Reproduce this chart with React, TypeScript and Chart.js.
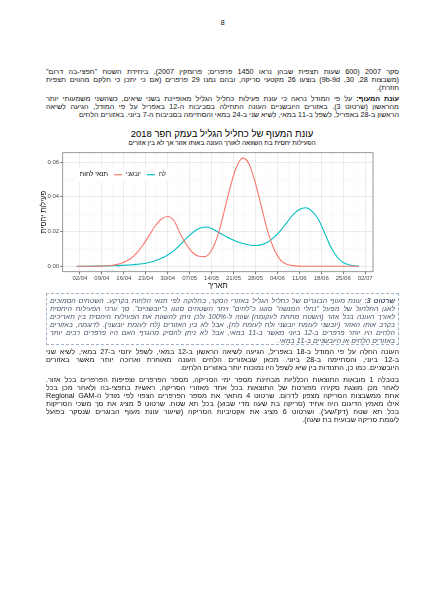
import React, { useEffect, useRef } from 'react';
import Chart from 'chart.js/auto';

// days counted from 02/04/2018 (day 0)
const days = [-1, 0, 2, 4, 6, 8, 10, 12, 14, 16, 18, 20, 22, 24, 26, 28, 30, 32, 34, 36, 38, 40, 42, 44, 46, 48, 50, 52, 54, 56, 58, 60, 62, 64, 66, 68, 70, 72, 74, 76, 78, 80, 82, 84, 86, 88, 89];

// relative activity, dry areas (יובשני)
const dryActivity = [0, 0, 0, 0, 0.0001, 0.0002, 0.0005, 0.0011, 0.0023, 0.0042, 0.0075, 0.012, 0.0175, 0.0232, 0.0272, 0.0287, 0.0262, 0.0188, 0.0124, 0.0078, 0.0058, 0.0056, 0.0092, 0.018, 0.0315, 0.046, 0.0575, 0.0623, 0.0588, 0.0478, 0.0335, 0.0195, 0.0095, 0.0035, 0.0012, 0.0004, 0.0001, 0, 0, 0, 0, 0, 0, 0, 0, 0, 0];

// relative activity, wet areas (לח)
const wetActivity = [0, 0, 0, 0.0001, 0.0001, 0.0002, 0.0003, 0.0004, 0.0006, 0.0008, 0.0011, 0.0015, 0.0022, 0.0032, 0.0046, 0.0065, 0.009, 0.0124, 0.0162, 0.0195, 0.0217, 0.0226, 0.0218, 0.0198, 0.0178, 0.0158, 0.0143, 0.0131, 0.0123, 0.012, 0.0125, 0.014, 0.0168, 0.0205, 0.0252, 0.0297, 0.0327, 0.0337, 0.0318, 0.0272, 0.0195, 0.0112, 0.0055, 0.0022, 0.0008, 0.0002, 0.0001];

const tickDays = [0, 7, 14, 21, 28, 35, 42, 49, 56, 63, 70, 77, 84, 91];
const tickLabels = ['02/04', '09/04', '16/04', '23/04', '30/04', '07/05', '14/05', '21/05', '28/05', '04/06', '11/06', '18/06', '25/06', '02/07'];
const yTicks = [0, 0.01, 0.02, 0.03, 0.04, 0.05, 0.06];
const yLabelTicks = [0, 0.02, 0.04, 0.06];

const seriesLabels = ['יובשני', 'לח'];
const legendTitle = 'תנאי לחות';
const dryColor = '#F8766D';
const wetColor = '#00BFC4';

type Line = { bold?: string; text: string };

const para1: Line[] = [
  { text: 'סקר 2007 (600 שעות תצפית שבהן נראו 1450 פרפרים; פרומקין 2007). ביחידת השטח "חפצי-בה דרום"' },
  { text: '(משבצות 28, 30, 9b-9d) בוצעו 26 מקטעי סריקה, ובהם נמנו 29 פרפרים (אם כי יתכן כי חלקם מהווים תצפית' },
  { text: 'חוזרת).' },
];

const para2: Line[] = [
  { bold: 'עונת המעוף:', text: 'על פי המודל נראה כי עונת פעילות כחליל הגליל מאופיינת בשני שיאים, כשהשני משמעותי יותר' },
  { text: 'מהראשון (שרטוט 3). באזורים היובשניים העונה התחילה בסביבות ה-12 באפריל על פי המודל, הגיעה לשיאה' },
  { text: 'הראשון ב-28 באפריל, לשפל ב-11 במאי, לשיא שני ב-24 במאי והסתיימה בסביבות ה-7 ביוני. באזורים הלחים' },
];

const caption: Line[] = [
  { bold: 'שרטוט 3:', text: 'עונת מעוף הבוגרים של כחליל הגליל באזורי הסקר, בחלוקה לפי תנאי הלחות בקרקע. השטחים הסמוכים' },
  { text: 'לאגן החלחול של מפעל "נחלי המנשה" סווגו כ"לחים" ויתר השטחים סווגו כ"יובשניים". סך ערכי הפעילות היחסית' },
  { text: 'לאורך העונה בכל אזור (השטח מתחת לעקומה) שווה ל-100% ולכן ניתן להשוות את הפעילות היחסית בין תאריכים' },
  { text: 'בקרב אותו האזור (יובשני לעומת יובשני ולח לעומת לח), אבל לא בין האזורים (לח לעומת יובשני). לדוגמה, באזורים' },
  { text: 'הלחים היו יותר פרפרים ב-12 ביוני מאשר ב-11 במאי, אבל לא ניתן להסיק מהגרף האם היו פרפרים רבים יותר' },
  { text: 'באזורים הלחים או היובשניים ב-11 במאי.' },
];

const para3: Line[] = [
  { text: 'העונה החלה על פי המודל ב-18 באפריל, הגיעה לשיאה הראשון ב-12 במאי, לשפל יחסי ב-27 במאי, לשיא שני' },
  { text: 'ב-12 ביוני, והסתיימה ב-28 ביוני. מכאן שבאזורים הלחים העונה מאוחרת וארוכה יותר מאשר באזורים' },
  { text: 'היובשניים. כמו כן, התנודות בין שיא לשפל היו נמוכות יותר באזורים הלחים.' },
];

const para4: Line[] = [
  { text: 'בטבלה 1 מובאות התוצאות הכלליות מבחינת מספר ימי הסריקה, מספר הפרפרים וצפיפות הפרפרים בכל אזור.' },
  { text: 'לאחר מכן מוצגת סקירה מפורטת של התוצאות בכל אחד מאזורי הסריקה, ראשית בחפצי-בה ולאחר מכן בכל' },
  { text: 'אחת ממשבצות הסריקה מצפון לדרום. שרטוט 4 מתאר את מספר הפרפרים הצפוי לפי מודל ה-Regional GAM' },
  { text: 'אילו מאמץ הדיגום היה אחיד (סריקה בת שעה מדי שבוע) בכל תא שטח. שרטוט 5 מציג את סך משכי הסריקות' },
  { text: "בכל תא שטח (דק'/שע'). ושרטוט 6 מציג את אקטיביות הסריקה (שיעור עונת מעוף הבוגרים שנסקר בפועל" },
  { text: 'לעומת סריקה שבועית בת שעה).' },
];

const FONT = '"Liberation Sans", Arial, sans-serif';
const LINE = 8;

function TextLines({ lines, top }: { lines: Line[]; top: number }) {
  return (
    <>
      {lines.map((l, i) => (
        <div
          key={i}
          style={{
            position: 'absolute',
            left: 0,
            right: 0,
            top: top + i * LINE,
            height: LINE,
            lineHeight: LINE + 'px',
            textAlign: 'justify',
            textAlignLast: i === lines.length - 1 ? 'start' : 'justify',
            whiteSpace: 'nowrap',
          }}
        >
          {l.bold && <b>{l.bold} </b>}
          {l.text}
        </div>
      ))}
    </>
  );
}

const isMajorX = (v?: number) => v !== undefined && tickDays.includes(v);
const isMajorY = (v?: number) => v !== undefined && yLabelTicks.some((t) => Math.abs(t - v) < 1e-9);

const panelBorder = {
  id: 'panelBorder',
  afterDatasetsDraw(chart: Chart) {
    const { ctx, chartArea } = chart;
    ctx.save();
    ctx.strokeStyle = '#808080';
    ctx.lineWidth = 0.8;
    ctx.strokeRect(chartArea.left, chartArea.top, chartArea.right - chartArea.left, chartArea.bottom - chartArea.top);
    ctx.restore();
  },
};

const insideLegend = {
  id: 'insideLegend',
  beforeDatasetsDraw(chart: Chart) {
    const { ctx, chartArea } = chart;
    const y = chartArea.top + 22;
    let x = chartArea.left + 17;
    ctx.save();
    ctx.font = '6.5px ' + FONT;
    ctx.textBaseline = 'middle';
    ctx.textAlign = 'left';
    const titleW = ctx.measureText(legendTitle).width;
    ctx.font = '6px ' + FONT;
    const w0 = ctx.measureText(seriesLabels[0]).width;
    const w1 = ctx.measureText(seriesLabels[1]).width;
    const total = titleW + 6 + 8 + 4 + w0 + 6 + 8 + 4 + w1;
    ctx.fillStyle = '#fff';
    ctx.fillRect(x - 3, y - 7, total + 6, 14);

    ctx.fillStyle = '#000';
    ctx.font = '6.5px ' + FONT;
    ctx.fillText(legendTitle, x, y);
    x += titleW + 6;
    const colors = [dryColor, wetColor];
    const widths = [w0, w1];
    ctx.font = '6px ' + FONT;
    for (let i = 0; i < 2; i++) {
      ctx.strokeStyle = colors[i];
      ctx.lineWidth = 1.2;
      ctx.beginPath();
      ctx.moveTo(x, y);
      ctx.lineTo(x + 8, y);
      ctx.stroke();
      x += 12;
      ctx.fillStyle = '#222';
      ctx.fillText(seriesLabels[i], x, y);
      x += widths[i] + 6;
    }
    ctx.restore();
  },
};

function ActivityChart() {
  const canvasRef = useRef<HTMLCanvasElement>(null);
  const chartRef = useRef<Chart | null>(null);

  useEffect(() => {
    if (!canvasRef.current) return;
    if (chartRef.current) chartRef.current.destroy();

    Chart.defaults.font.family = FONT;

    chartRef.current = new Chart(canvasRef.current, {
      type: 'line',
      data: {
        datasets: [
          {
            label: seriesLabels[0],
            data: days.map((d, i) => ({ x: d, y: dryActivity[i] })),
            borderColor: dryColor,
            borderWidth: 1.1,
            pointRadius: 0,
            cubicInterpolationMode: 'monotone',
            fill: false,
          },
          {
            label: seriesLabels[1],
            data: days.map((d, i) => ({ x: d, y: wetActivity[i] })),
            borderColor: wetColor,
            borderWidth: 1.1,
            pointRadius: 0,
            cubicInterpolationMode: 'monotone',
            fill: false,
          },
        ],
      },
      options: {
        animation: false,
        responsive: true,
        maintainAspectRatio: false,
        layout: { padding: { left: 38, right: 51, top: 4.7, bottom: 0 } },
        plugins: {
          legend: { display: false },
          tooltip: { enabled: false },
        },
        scales: {
          x: {
            type: 'linear',
            min: -5.5,
            max: 93.5,
            afterBuildTicks: (s: any) => {
              const vals: number[] = [];
              tickDays.forEach((d, i) => {
                vals.push(d);
                if (i < tickDays.length - 1) vals.push(d + 3.5);
              });
              s.ticks = vals.map((v) => ({ value: v }));
            },
            afterFit: (s: any) => {
              s.height = 23.3;
            },
            ticks: {
              autoSkip: false,
              maxRotation: 0,
              padding: 1,
              color: '#4D4D4D',
              font: { size: 6 },
              callback: (v: any) => {
                const i = tickDays.indexOf(Number(v));
                return i >= 0 ? tickLabels[i] : '';
              },
            },
            grid: {
              color: (c: any) => (isMajorX(c.tick?.value) ? '#E6E6E6' : '#F3F3F3'),
              lineWidth: (c: any) => (isMajorX(c.tick?.value) ? 0.8 : 0.5),
              tickLength: 2.5,
              tickColor: (c: any) => (isMajorX(c.tick?.value) ? '#555' : 'rgba(0,0,0,0)'),
            },
            border: { display: false },
            title: {
              display: true,
              text: 'תאריך',
              color: '#000',
              font: { size: 7.5 },
              padding: { top: 0, bottom: 4.5 },
            },
          },
          y: {
            min: -0.0031,
            max: 0.0654,
            afterBuildTicks: (s: any) => {
              s.ticks = yTicks.map((v) => ({ value: v }));
            },
            afterFit: (s: any) => {
              s.width = 24.7;
            },
            ticks: {
              padding: 1,
              color: '#4D4D4D',
              font: { size: 6 },
              callback: (v: any) => (isMajorY(Number(v)) ? Number(v).toFixed(2) : ''),
            },
            grid: {
              color: (c: any) => (isMajorY(c.tick?.value) ? '#E6E6E6' : '#F3F3F3'),
              lineWidth: (c: any) => (isMajorY(c.tick?.value) ? 0.8 : 0.5),
              tickLength: 2.5,
              tickColor: (c: any) => (isMajorY(c.tick?.value) ? '#555' : 'rgba(0,0,0,0)'),
            },
            border: { display: false },
            title: {
              display: true,
              text: 'פעילות יחסית',
              color: '#000',
              font: { size: 7.5 },
              padding: { top: 1, bottom: 0 },
            },
          },
        },
      },
      plugins: [insideLegend, panelBorder],
    });

    return () => {
      if (chartRef.current) {
        chartRef.current.destroy();
        chartRef.current = null;
      }
    };
  }, []);

  return (
    <div style={{ position: 'absolute', left: 0, top: 148, width: 424, height: 147 }}>
      <canvas ref={canvasRef}></canvas>
    </div>
  );
}

export default function App() {
  return (
    <div style={{ position: 'absolute', left: 0, top: 0, width: 424, height: 600, background: '#fff', fontFamily: FONT, color: '#111' }}>
      <div style={{ position: 'absolute', left: 46, width: 353, top: 18, textAlign: 'center', fontSize: 7.5 }}>8</div>

      <div style={{ position: 'absolute', left: 46, width: 353, top: 0, direction: 'rtl', fontSize: 7.2 }}>
        <TextLines lines={para1} top={68} />
        <TextLines lines={para2} top={95} />
      </div>

      <div style={{ position: 'absolute', left: 0, width: 444, top: 128, textAlign: 'center', fontSize: 9.5, color: '#000', direction: 'rtl' }}>
        עונת המעוף של כחליל הגליל בעמק חפר 2018
      </div>
      <div style={{ position: 'absolute', left: 0, width: 444, top: 139, textAlign: 'center', fontSize: 6.5, color: '#000', direction: 'rtl' }}>
        הפעילות יחסית בת השוואה לאורך העונה באותו אזור אך לא בין אזורים
      </div>

      <ActivityChart />

      <div
        style={{
          position: 'absolute',
          left: 46,
          top: 293,
          width: 353,
          height: 52,
          boxSizing: 'border-box',
          border: '1px dashed #9FB4CA',
        }}
      />
      <div style={{ position: 'absolute', left: 50, width: 345, top: 0, direction: 'rtl', fontSize: 7, fontStyle: 'italic', color: '#44546A' }}>
        <TextLines lines={caption} top={297} />
      </div>

      <div style={{ position: 'absolute', left: 46, width: 353, top: 0, direction: 'rtl', fontSize: 7.2 }}>
        <TextLines lines={para3} top={348} />
        <TextLines lines={para4} top={376} />
      </div>
    </div>
  );
}
